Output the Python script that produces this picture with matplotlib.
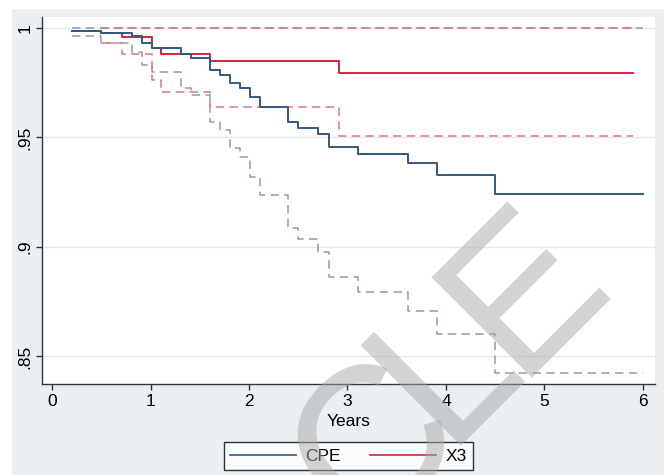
import matplotlib.pyplot as plt
from matplotlib.lines import Line2D
from matplotlib.patches import Rectangle

# Kaplan-Meier estimates (step times in years)
cpe_t = [0.2, 0.5, 0.81, 0.91, 1.01, 1.31, 1.41, 1.60, 1.71, 1.81, 1.91,
         2.01, 2.11, 2.40, 2.50, 2.70, 2.81, 3.11, 3.61, 3.91, 4.50, 6.0]
cpe_s = [0.9988, 0.9977, 0.9964, 0.9933, 0.9910, 0.9882, 0.9864, 0.9808,
         0.9785, 0.9747, 0.9725, 0.9684, 0.9641, 0.9569, 0.9545, 0.9515,
         0.9458, 0.9425, 0.9382, 0.9329, 0.9242, 0.9242]
cpe_lo = [0.9962, 0.9930, 0.9890, 0.9830, 0.9800, 0.9725, 0.9694, 0.9572,
          0.9534, 0.9451, 0.9412, 0.9321, 0.9237, 0.9085, 0.9037, 0.8979,
          0.8864, 0.8796, 0.8709, 0.8601, 0.8423, 0.8423]
cpe_hi_t = [0.2, 6.0]
cpe_hi = [1.0, 1.0]

x3_t = [0.2, 0.5, 0.71, 1.01, 1.11, 1.60, 2.91, 5.9]
x3_s = [0.9988, 0.9977, 0.9960, 0.9907, 0.9883, 0.9848, 0.9793, 0.9793]
x3_ci_t = [0.5, 0.71, 1.01, 1.11, 1.60, 2.91, 5.9]
x3_lo = [0.9930, 0.9881, 0.9763, 0.9709, 0.9638, 0.9508, 0.9508]
x3_hi = [1.0, 1.0, 1.0, 1.0, 1.0, 1.0, 1.0]

xticks = [0, 1, 2, 3, 4, 5, 6]
yticks = [0.85, 0.9, 0.95, 1.0]
ytick_labels = ['.85', '.9', '.95', '1']
legend_labels = ['CPE', 'X3']

# visible letters of the diagonal watermark
wm_letters = ['C', 'L', 'E']

navy = '#34587f'
red = '#d4243f'
navy_ci = '#8a9cb3'
red_ci = '#e8718a'
bg = '#e9eff2'

plt.rcParams['font.family'] = ['Liberation Sans', 'DejaVu Sans']

fig = plt.figure(figsize=(6.64, 4.75), dpi=100)
fig.patch.set_facecolor('white')
fig.add_artist(Rectangle((0.018, 0.0), 0.982, 0.981, transform=fig.transFigure,
                         facecolor=bg, edgecolor='none', zorder=-10))

ax = fig.add_axes([0.0633, 0.1916, 0.9231, 0.7726])
ax.set_facecolor('white')

dash = (0, (5.5, 3.5))
ax.plot(cpe_hi_t, cpe_hi, color=navy_ci, lw=1.1, ls=dash, drawstyle='steps-post')
ax.plot(x3_ci_t, x3_hi, color=red_ci, lw=1.1, ls=dash, drawstyle='steps-post')
ax.plot(cpe_t, cpe_lo, color=navy_ci, lw=1.1, ls=dash, drawstyle='steps-post')
ax.plot(x3_ci_t, x3_lo, color=red_ci, lw=1.1, ls=dash, drawstyle='steps-post')
ax.plot(x3_t, x3_s, color=red, lw=1.4, drawstyle='steps-post')
ax.plot(cpe_t, cpe_s, color=navy, lw=1.4, drawstyle='steps-post')

ax.set_xlim(-0.1015, 6.122)
ax.set_ylim(0.8374, 1.005)
ax.set_xticks(xticks)
ax.set_yticks(yticks)
ax.set_yticklabels(ytick_labels, rotation=90, va='center')
ax.tick_params(labelsize=12.5, length=4, width=1, color='#333333', pad=3)
ax.grid(axis='y', color='#e2ebee', lw=1)
ax.set_axisbelow(True)
for side in ['top', 'right']:
    ax.spines[side].set_visible(False)
for side in ['left', 'bottom']:
    ax.spines[side].set_color('#333333')
    ax.spines[side].set_linewidth(1)
ax.set_xlabel('Years', fontsize=12.5, labelpad=4)

handles = [Line2D([], [], color=navy, lw=1.2), Line2D([], [], color=red, lw=1.2)]
leg = fig.legend(handles, legend_labels, ncol=2, loc='center',
                 bbox_to_anchor=(0.525, 0.04), fontsize=12.5, frameon=True,
                 fancybox=False, handlelength=3.8, handletextpad=0.55,
                 columnspacing=1.7, borderpad=0.35)
leg.get_frame().set_edgecolor('black')
leg.get_frame().set_linewidth(1)
leg.get_frame().set_facecolor('white')

# watermark, one letter at a time (pixel anchors of each letter's baseline start)
wm_anchor = [(363, 537), (444, 446), (515, 378)]
for letter, (px, py) in zip(wm_letters, wm_anchor):
    fig.text(px / 664, 1 - py / 475, letter, rotation=45, rotation_mode='anchor',
             ha='left', va='baseline', fontsize=148, color='#a8a8a8', alpha=0.5,
             zorder=20)

fig.savefig('out.png', dpi=100)
